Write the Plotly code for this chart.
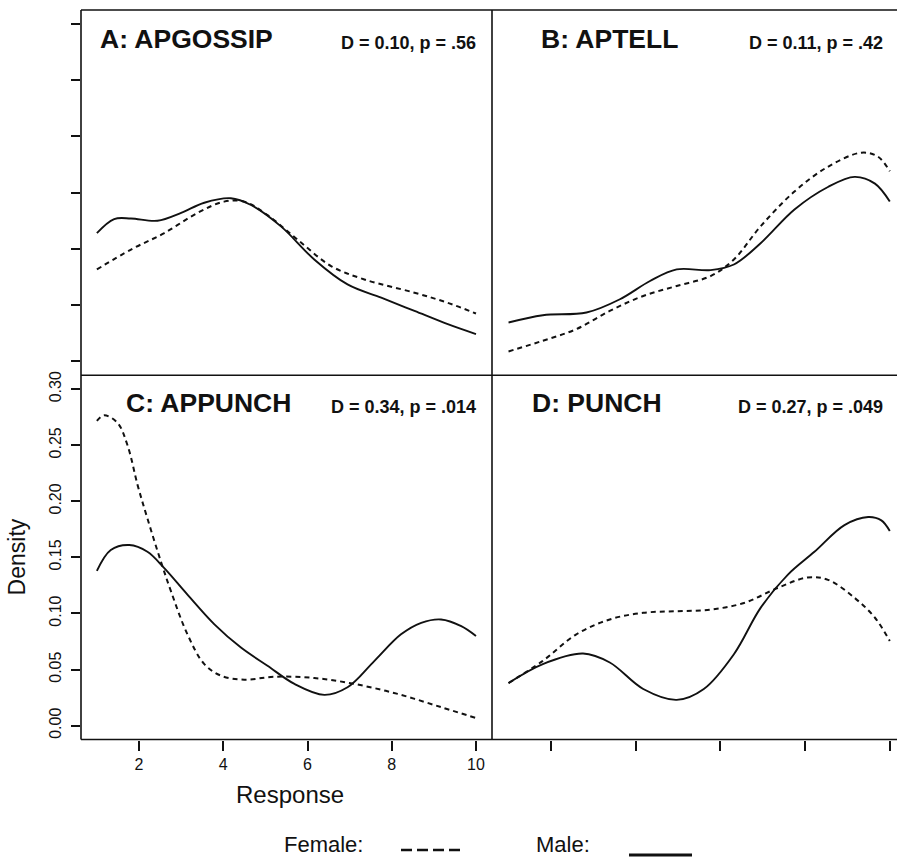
import plotly.graph_objects as go

# ---------------- data ----------------
# Panel A: APGOSSIP
a_male_x = [1, 1.41, 1.81, 2.44, 3.0, 3.55, 4.18, 4.66, 5.37, 6.16, 6.95, 7.75, 8.54, 9.33, 10]
a_male_y = [0.114, 0.1265, 0.127, 0.125, 0.132, 0.141, 0.145, 0.139, 0.120, 0.0906, 0.0684, 0.0566, 0.0448, 0.033, 0.0242]
a_female_x = [1, 1.81, 2.6, 3.39, 4.02, 4.5, 5.05, 5.77, 6.56, 7.35, 8.54, 9.33, 10]
a_female_y = [0.0817, 0.0994, 0.114, 0.132, 0.142, 0.142, 0.130, 0.108, 0.0847, 0.0728, 0.061, 0.052, 0.0425]

# Panel B: APTELL
b_male_x = [1, 1.81, 2.84, 3.63, 4.34, 4.97, 5.77, 6.32, 6.95, 7.75, 8.54, 9.17, 9.65, 10]
b_male_y = [0.0345, 0.041, 0.0434, 0.0552, 0.0714, 0.0817, 0.0811, 0.0861, 0.105, 0.135, 0.155, 0.164, 0.158, 0.142]
b_female_x = [1, 1.81, 2.6, 3.39, 4.18, 4.97, 5.77, 6.32, 6.95, 7.75, 8.54, 9.33, 9.72, 10]
b_female_y = [0.0088, 0.0183, 0.0286, 0.0448, 0.0581, 0.067, 0.0758, 0.0906, 0.120, 0.151, 0.173, 0.1855, 0.182, 0.169]

# Panel C: APPUNCH
c_male_x = [1, 1.33, 1.77, 2.2, 2.6, 3.15, 3.79, 4.42, 5.05, 5.69, 6.4, 6.95, 7.59, 8.22, 8.7, 9.17, 9.65, 10]
c_male_y = [0.138, 0.1566, 0.161, 0.155, 0.1404, 0.1168, 0.0903, 0.0696, 0.0534, 0.0372, 0.0274, 0.0342, 0.0578, 0.0814, 0.0917, 0.0947, 0.0888, 0.080]
c_female_x = [1, 1.17, 1.49, 1.73, 1.97, 2.2, 2.52, 2.76, 3.15, 3.55, 3.95, 4.5, 5.21, 6.16, 7.11, 8.14, 9.17, 10]
c_female_y = [0.2717, 0.2767, 0.270, 0.2496, 0.214, 0.1847, 0.1463, 0.1197, 0.0814, 0.0549, 0.0445, 0.041, 0.0436, 0.0425, 0.0372, 0.0283, 0.0165, 0.0068]

# Panel D: PUNCH
d_male_x = [1, 1.81, 2.76, 3.39, 4.18, 4.97, 5.61, 6.32, 6.95, 7.59, 8.22, 8.93, 9.49, 9.8, 10]
d_male_y = [0.038, 0.0549, 0.0643, 0.0563, 0.0327, 0.023, 0.0327, 0.0637, 0.105, 0.1345, 0.155, 0.1788, 0.186, 0.183, 0.1735]
d_female_x = [1, 1.81, 2.6, 3.39, 4.18, 4.97, 5.77, 6.56, 7.35, 8.06, 8.54, 9.17, 9.65, 10]
d_female_y = [0.038, 0.0578, 0.0814, 0.0947, 0.1006, 0.102, 0.1035, 0.1094, 0.1227, 0.1321, 0.130, 0.1139, 0.0962, 0.0755]

panel_titles = ["A: APGOSSIP", "B: APTELL", "C: APPUNCH", "D: PUNCH"]
panel_stats = ["D = 0.10, p = .56", "D = 0.11, p = .42", "D = 0.34, p = .014", "D = 0.27, p = .049"]
y_ticks = [0.00, 0.05, 0.10, 0.15, 0.20, 0.25, 0.30]
x_ticks = [2, 4, 6, 8, 10]

# ---------------- layout helpers ----------------
W, H = 897, 858
FONT = "Liberation Sans, Arial, Helvetica, sans-serif"
INK = "#111111"


def px(x):
    return x / W


def py(y):
    return 1 - y / H


LEFT, MID, RIGHT = 81, 492, 897
TOP, HMID, BOT = 6, 373, 739

fig = go.Figure()

panels = [
    (a_male_x, a_male_y, a_female_x, a_female_y, "x", "y"),
    (b_male_x, b_male_y, b_female_x, b_female_y, "x2", "y2"),
    (c_male_x, c_male_y, c_female_x, c_female_y, "x3", "y3"),
    (d_male_x, d_male_y, d_female_x, d_female_y, "x4", "y4"),
]
for mx, my, fx, fy, xa, ya in panels:
    fig.add_trace(go.Scatter(x=fx, y=fy, mode="lines", xaxis=xa, yaxis=ya,
                             line=dict(color=INK, width=2, dash="5px,4px", shape="spline", smoothing=1.0),
                             showlegend=False, hoverinfo="skip"))
    fig.add_trace(go.Scatter(x=mx, y=my, mode="lines", xaxis=xa, yaxis=ya,
                             line=dict(color=INK, width=1.9, shape="spline", smoothing=1.0),
                             showlegend=False, hoverinfo="skip"))

xr_left = [0.623, 10.38]
xr_right = [0.61, 10.17]
yr = [-0.0124, 0.3124]

common_x = dict(showgrid=False, zeroline=False, showline=False, fixedrange=True)
common_y = dict(showgrid=False, zeroline=False, showline=False, fixedrange=True, range=yr)

tickfont = dict(family=FONT, size=16, color=INK)

fig.update_layout(
    width=W, height=H,
    margin=dict(l=0, r=0, t=0, b=0),
    paper_bgcolor="white", plot_bgcolor="white",
    xaxis=dict(common_x, domain=[px(LEFT), px(MID)], range=xr_left, anchor="y", showticklabels=False, ticks=""),
    xaxis2=dict(common_x, domain=[px(MID), 1.0], range=xr_right, anchor="y2", showticklabels=False, ticks=""),
    xaxis3=dict(common_x, domain=[px(LEFT), px(MID)], range=xr_left, anchor="y3",
                tickvals=x_ticks, ticktext=[str(v) for v in x_ticks], ticks="outside", ticklen=10,
                tickwidth=1.5, tickcolor=INK, tickfont=tickfont),
    xaxis4=dict(common_x, domain=[px(MID), 1.0], range=xr_right, anchor="y4",
                tickvals=x_ticks, showticklabels=False, ticks="outside", ticklen=10,
                tickwidth=1.5, tickcolor=INK),
    yaxis=dict(common_y, domain=[py(HMID), py(TOP)], anchor="x", tickvals=y_ticks,
               showticklabels=False, ticks="outside", ticklen=9, tickwidth=1.5, tickcolor=INK),
    yaxis2=dict(common_y, domain=[py(HMID), py(TOP)], anchor="x2", showticklabels=False, ticks=""),
    yaxis3=dict(common_y, domain=[py(BOT), py(HMID)], anchor="x3", tickvals=y_ticks,
                ticktext=["%.2f" % v for v in y_ticks], ticks="outside", ticklen=9, tickwidth=1.5,
                tickcolor=INK, tickangle=-90, tickfont=dict(family=FONT, size=16, color=INK),
                ticklabelstandoff=4),
    yaxis4=dict(common_y, domain=[py(BOT), py(HMID)], anchor="x4", showticklabels=False, ticks=""),
)

# panel borders
border = dict(color=INK, width=1.6)
for x0, y0, x1, y1 in [
    (LEFT, TOP, LEFT, BOT), (MID, TOP, MID, BOT),
    (LEFT, TOP, RIGHT, TOP), (LEFT, HMID, RIGHT, HMID), (LEFT, BOT, RIGHT, BOT),
]:
    fig.add_shape(type="line", xref="paper", yref="paper",
                  x0=px(x0), y0=py(y0), x1=px(x1), y1=py(y1), line=border)

# panel labels
title_pos = [(98, 35), (539, 35), (124, 401), (530, 401)]
stat_pos = [(478, 39), (885, 39), (478, 405), (885, 405)]
for t, (tx, ty) in zip(panel_titles, title_pos):
    fig.add_annotation(text="<b>%s</b>" % t, x=px(tx), y=py(ty), xref="paper", yref="paper",
                       xanchor="left", yanchor="middle", showarrow=False,
                       font=dict(family=FONT, size=26.5, color=INK))
for s, (sx, sy) in zip(panel_stats, stat_pos):
    fig.add_annotation(text="<b>%s</b>" % s, x=px(sx), y=py(sy), xref="paper", yref="paper",
                       xanchor="right", yanchor="middle", showarrow=False,
                       font=dict(family=FONT, size=18, color=INK))

# axis titles
fig.add_annotation(text="Density", x=px(17), y=py(556), xref="paper", yref="paper",
                   textangle=-90, showarrow=False, xanchor="center", yanchor="middle",
                   font=dict(family=FONT, size=23, color=INK))
fig.add_annotation(text="Response", x=px(290), y=py(794), xref="paper", yref="paper",
                   showarrow=False, xanchor="center", yanchor="middle",
                   font=dict(family=FONT, size=24, color=INK))

# key
fig.add_annotation(text="Female:", x=px(323), y=py(844), xref="paper", yref="paper",
                   showarrow=False, xanchor="center", yanchor="middle", borderpad=0,
                   font=dict(family=FONT, size=22, color=INK))
fig.add_annotation(text="Male:", x=px(563), y=py(844), xref="paper", yref="paper",
                   showarrow=False, xanchor="center", yanchor="middle", borderpad=0,
                   font=dict(family=FONT, size=22, color=INK))
fig.add_shape(type="line", xref="paper", yref="paper", x0=px(401), y0=py(850), x1=px(462), y1=py(850),
              line=dict(color=INK, width=2.5, dash="11px,5px"))
fig.add_shape(type="line", xref="paper", yref="paper", x0=px(629), y0=py(855), x1=px(692), y1=py(855),
              line=dict(color=INK, width=3))

fig.write_html(
    "out.html",
    config={"displayModeBar": False},
    post_script="document.body.style.margin='0';document.body.style.padding='0';"
                "document.body.style.overflow='hidden';",
)
